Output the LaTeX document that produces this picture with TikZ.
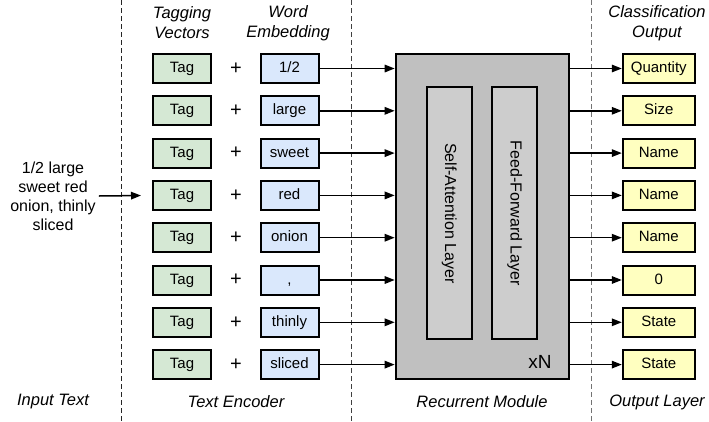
\documentclass[tikz,border=0pt]{standalone}
\usepackage{fontspec}
\setmainfont{Liberation Sans}
\usepackage{tikz}
\usetikzlibrary{positioning,arrows.meta}
\tikzstyle{diagram} = [x = 1pt, y = -1pt]
\definecolor{tagColor}{HTML}{D5E8D4}
\definecolor{wordColor}{HTML}{DAE8FC}
\definecolor{outColor}{HTML}{FFFFC0}
\definecolor{moduleColor}{HTML}{C0C0C0}
\definecolor{layerColor}{HTML}{CDCDCD}
\tikzstyle{boxStyle} = [draw=black, line width=2pt, minimum height=29pt, inner sep=0pt, text height=11pt, text depth=3pt, font=\fontsize{15}{18}\selectfont]
\tikzstyle{tagBox} = [boxStyle, fill=tagColor, minimum width=58pt]
\tikzstyle{wordBox} = [boxStyle, fill=wordColor, minimum width=58pt]
\tikzstyle{outBox} = [boxStyle, fill=outColor, minimum width=72pt]
\tikzstyle{layerBox} = [draw=black, line width=2pt, fill=layerColor, minimum width=45pt, minimum height=252pt, inner sep=0pt]
\tikzstyle{headText} = [font=\fontsize{16.5}{20}\selectfont\itshape, align=center]
\tikzstyle{plainText} = [font=\fontsize{16}{19}\selectfont, align=center]
\tikzstyle{plusText} = [font=\fontsize{20}{20}\selectfont]
\tikzstyle{arrowLine} = [line width=1.5pt, -{Triangle[length=10pt,width=7.5pt]}]
\tikzstyle{sepLine} = [dash pattern=on 5pt off 3pt, line width=0.9pt]
\newcommand{\rowY}[1]{68.5 + 42.3 * (#1 - 1)}
\newcommand{\sepAt}[2]{\draw [sepLine, color=#2] (#1, 0) -- + (0, 421);}

\begin{document}
\begin{tikzpicture}[diagram]
  \useasboundingbox (0,0) rectangle (709,421);
  \sepAt{121.7}{black!85}
  \sepAt{351.7}{black!75}
  \sepAt{591.7}{black!55}
  % headers and layer names
  \node [headText] (tagHead) at (182, 23) {Tagging\\Vectors};
  \node [headText] (wordHead) at (288, 23) {Word\\Embedding};
  \node [headText] (classHead) at (657, 23) {Classification\\Output};
  \node [headText] (inputName) at (53, 402) {Input Text};
  \node [headText] (encoderName) at (236, 402) {Text Encoder};
  \node [headText] (moduleName) at (482, 402) {Recurrent Module};
  \node [headText] (outputName) at (657, 402) {Output Layer};
  % recurrent module
  \node [boxStyle, fill=moduleColor, minimum width=173.6pt, minimum height=325pt] (module) at (482.5, 216.5) {};
  \node [layerBox] (attention) at (449.2, 213.3) {};
  \node [layerBox] (feedForward) at (514.8, 213.3) {};
  \node [plainText, rotate=-90] (attentionText) at (attention) {Self-Attention Layer};
  \node [plainText, rotate=-90] (feedForwardText) at (feedForward) {Feed-Forward Layer};
  \node [font=\fontsize{19}{19}\selectfont] (repeat) at (540, 362) {xN};
  % rows
  \foreach \word/\class [count=\i] in {{1/2}/Quantity, large/Size, sweet/Name, red/Name, onion/Name, {,}/0, thinly/State, sliced/State} {
    \pgfmathsetmacro{\y}{\rowY{\i}}
    \node [tagBox] (tag\i) at (182, \y) {Tag};
    \node [plusText] (plus\i) at (236, \y) {+};
    \node [wordBox] (word\i) at (289.5, \y) {\word};
    \node [outBox] (out\i) at (658.8, \y) {\class};
    \draw [arrowLine] (word\i.east) -- (word\i.east -| module.west);
    \draw [arrowLine] (out\i.west -| module.east) -- (out\i.west);
  }
  % input text
  \node [plainText, inner sep=3pt] (input) at (53, 196) {1/2 large\\sweet red\\onion, thinly\\sliced};
  \draw [arrowLine, shorten >=11pt] (input.east) -- (tag4.west);
\end{tikzpicture}
\end{document}
